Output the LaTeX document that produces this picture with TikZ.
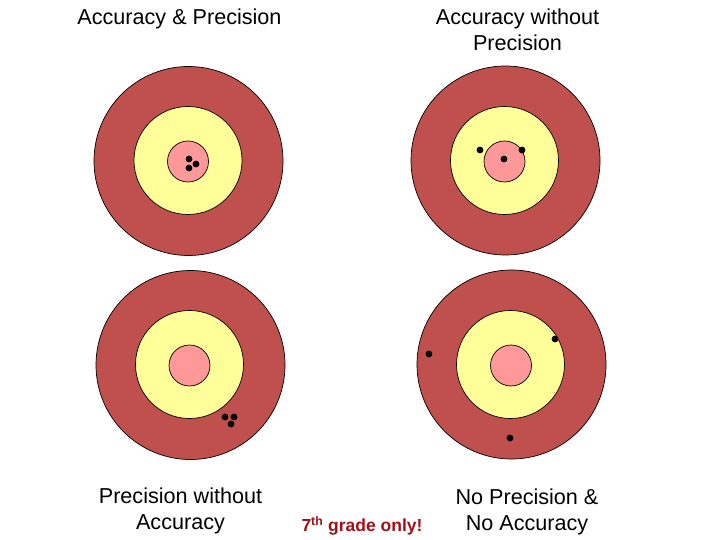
\documentclass[tikz,border=0pt]{standalone}
\usepackage{fontspec}
\setmainfont{Liberation Sans}
\definecolor{ringred}{HTML}{C0504D}
\definecolor{ringyellow}{HTML}{FFFF99}
\definecolor{ringpink}{HTML}{FF9999}
\definecolor{gradered}{RGB}{160,16,24}
\tikzset{
  outerring/.style={circle,draw=black,line width=0.7pt,fill=ringred,minimum size=189pt,inner sep=0pt},
  midring/.style={circle,draw=black,line width=0.7pt,fill=ringyellow,minimum size=108pt,inner sep=0pt},
  bullseye/.style={circle,draw=black,line width=0.7pt,fill=ringpink,minimum size=41pt,inner sep=0pt},
  hit/.style={circle,fill=black,minimum size=6.8pt,inner sep=0pt},
  caption/.style={font=\fontsize{21.6}{26}\selectfont,align=center,anchor=north,inner sep=0pt,text=black},
  note/.style={font=\fontsize{17.5}{21}\selectfont\bfseries,anchor=base,inner sep=0pt,text=gradered}
}
\begin{document}
\begin{tikzpicture}[x=1pt,y=-1pt]
\useasboundingbox (0,0) rectangle (720,540);
% top-left target
\node[outerring] (o1) at (188.5,161) {};
\node[midring] (m1) at (188,160.5) {};
\node[bullseye] (b1) at (188,161.5) {};
\node[hit] (h11) at (189,159) {};
\node[hit] (h12) at (196,164) {};
\node[hit] (h13) at (189,168) {};
% top-right target
\node[outerring] (o2) at (505.5,160.5) {};
\node[midring] (m2) at (504.5,160.5) {};
\node[bullseye] (b2) at (504.5,161.5) {};
\node[hit] (h21) at (480,150) {};
\node[hit] (h22) at (522,150) {};
\node[hit] (h23) at (504,159) {};
% bottom-left target
\node[outerring] (o3) at (190.5,365) {};
\node[midring] (m3) at (189.5,364.5) {};
\node[bullseye] (b3) at (189.5,365.5) {};
\node[hit] (h31) at (225,417) {};
\node[hit] (h32) at (234,417) {};
\node[hit] (h33) at (231,424) {};
% bottom-right target
\node[outerring] (o4) at (511.5,364.5) {};
\node[midring] (m4) at (510.5,364.5) {};
\node[bullseye] (b4) at (511,365.5) {};
\node[hit] (h41) at (429,354) {};
\node[hit] (h42) at (555,339) {};
\node[hit] (h43) at (510,438) {};
% captions
\node[caption] (c1) at (179.5,8.6) {Accuracy \& Precision};
\node[caption] (c2) at (517.5,8.6) {Accuracy without\\Precision};
\node[caption] (c3) at (180.5,488) {Precision without\\Accuracy};
\node[caption] (c4) at (527,488.6) {No Precision \&\\No Accuracy};
\node[note] (n1) at (362,531.5) {7\textsuperscript{th} grade only!};
\end{tikzpicture}
\end{document}
